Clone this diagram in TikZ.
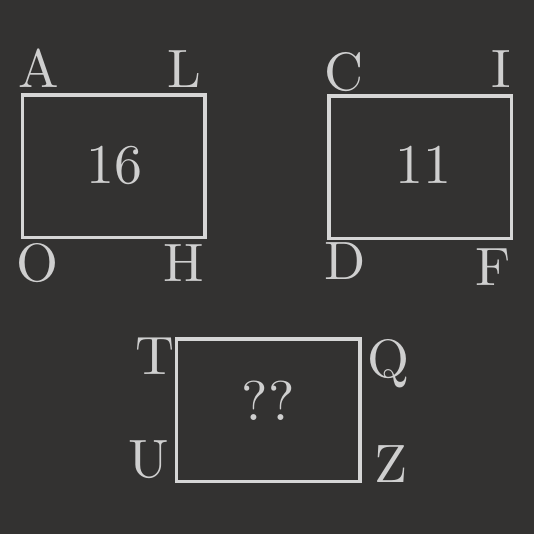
\documentclass[tikz,border=0pt]{standalone}
\definecolor{bgc}{HTML}{333231}
\definecolor{fgc}{HTML}{D6D6D6}
\definecolor{txc}{HTML}{CFCFCF}
\newcommand{\bigtxt}[1]{\scalebox{5.4}{\fontsize{10}{12}\selectfont #1}}
\newcommand{\bignum}[1]{\scalebox{5.6}{\fontsize{10}{12}\selectfont #1}}
\begin{document}
\begin{tikzpicture}[x=1pt,y=-1pt,
  frame/.style={draw=fgc,line width=3.3pt},
  lbl/.style={text=txc,inner sep=0pt,anchor=base},
  num/.style={text=txc,inner sep=0pt,anchor=base}]
\fill[bgc] (0,0) rectangle (534,534);
\useasboundingbox (0,0) rectangle (534,534);
% boxes
\draw[frame] (22.3,95) rectangle (205,237.4);
\draw[frame] (329,96) rectangle (511.7,238.3);
\draw[frame] (176.7,339) rectangle (360,481.7);
% numbers
\node[num] (n1) at (114.3,183.3) {\bignum{16}};
\node[num] (n2) at (423.3,183.3) {\bignum{11}};
\node[num] (n3) at (268,420) {\bignum{??}};
% letters box 1
\node[lbl] (A) at (39,88) {\bigtxt{A}};
\node[lbl] (L) at (184,88) {\bigtxt{L}};
\node[lbl] (O) at (38,281) {\bigtxt{O}};
\node[lbl] (H) at (184,281) {\bigtxt{H}};
% box 2
\node[lbl] (C) at (344,91) {\bigtxt{C}};
\node[lbl] (I) at (501,88) {\bigtxt{I}};
\node[lbl] (D) at (345.5,279) {\bigtxt{D}};
\node[lbl] (F) at (493,285) {\bigtxt{F}};
% box 3
\node[lbl] (T) at (154.5,374) {\bigtxt{T}};
\node[lbl] (Q) at (388,377) {\bigtxt{Q}};
\node[lbl] (U) at (148.8,477) {\bigtxt{U}};
\node[lbl] (Z) at (391,482.5) {\bigtxt{Z}};
\end{tikzpicture}
\end{document}
